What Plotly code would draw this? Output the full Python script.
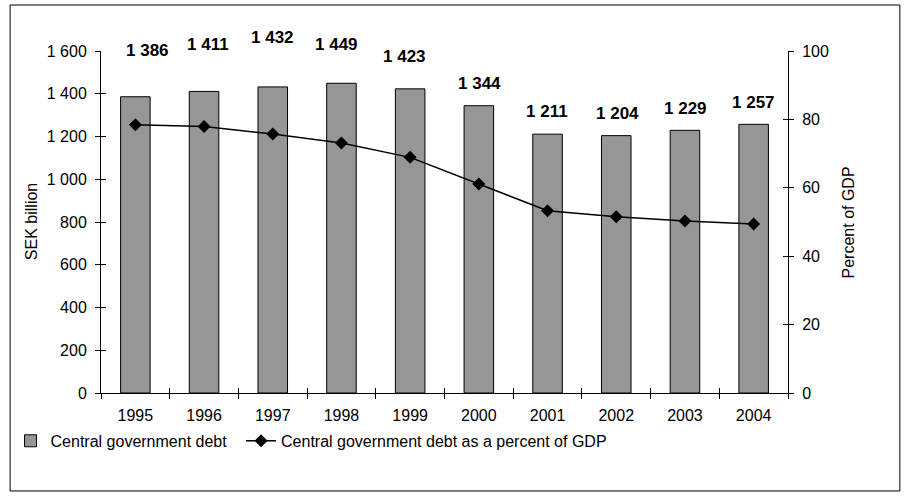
import plotly.graph_objects as go

years = ["1995", "1996", "1997", "1998", "1999", "2000", "2001", "2002", "2003", "2004"]
debt_sek_bn = [1386, 1411, 1432, 1449, 1423, 1344, 1211, 1204, 1229, 1257]
debt_pct_gdp = [78.4, 77.9, 75.7, 73.1, 68.9, 61.1, 53.3, 51.5, 50.3, 49.4]
debt_labels = ["1 386", "1 411", "1 432", "1 449", "1 423", "1 344", "1 211", "1 204", "1 229", "1 257"]

# label placement offsets (pixels) as in the original chart
label_yshift = [46, 47, 49, 39, 32, 22, 23, 22, 22, 22]
label_xshift = [12, 4, 0, -5, -6, 1, -1, 1, 1, 0]

FONT = "Liberation Sans, Arial, sans-serif"
FS = 16

fig = go.Figure()
fig.add_trace(go.Bar(
    x=years, y=debt_sek_bn, name="Central government debt",
    marker=dict(color="#969696", line=dict(color="black", width=1)),
    width=0.43, xaxis="x", yaxis="y", hoverinfo="x+y", legend="legend",
))
fig.add_trace(go.Scatter(
    x=years, y=debt_pct_gdp, name="Central government debt as a percent of GDP",
    mode="lines+markers", line=dict(color="black", width=1.5),
    marker=dict(symbol="diamond", size=10, color="black"),
    xaxis="x", yaxis="y2", legend="legend2",
))
# invisible helpers so the inner halves of the crossing tick marks are drawn
fig.add_trace(go.Scatter(x=years, y=debt_sek_bn, mode="markers", marker=dict(opacity=0),
                         showlegend=False, hoverinfo="skip", xaxis="x2", yaxis="y3"))
fig.add_trace(go.Scatter(x=years, y=debt_pct_gdp, mode="markers", marker=dict(opacity=0),
                         showlegend=False, hoverinfo="skip", xaxis="x", yaxis="y4"))

for i, (v, t, dx, dy) in enumerate(zip(debt_sek_bn, debt_labels, label_xshift, label_yshift)):
    fig.add_annotation(x=i, y=v, xref="x", yref="y", text="<b>%s</b>" % t, showarrow=False,
                       xshift=dx, yshift=dy, yanchor="middle",
                       font=dict(family=FONT, size=17, color="black"))

tick_common = dict(tickcolor="black", ticklen=5, tickwidth=1)
legend_common = dict(orientation="h", y=-0.14, xanchor="left", yanchor="middle",
                     font=dict(family=FONT, size=FS), bgcolor="rgba(0,0,0,0)")
fig.update_layout(
    width=905, height=497,
    margin=dict(l=100, r=117, t=51, b=104),
    paper_bgcolor="white", plot_bgcolor="white",
    separators=". ",
    font=dict(family=FONT, size=FS, color="black"),
    showlegend=True,
    legend=dict(x=-0.13, **legend_common),
    legend2=dict(x=0.205, **legend_common),
    xaxis=dict(type="category", range=[-0.5, 9.5], showline=True, linecolor="black", linewidth=1,
               ticks="outside", tickson="boundaries", showgrid=False, zeroline=False,
               tickfont=dict(size=FS), ticklabelstandoff=8, **tick_common),
    xaxis2=dict(type="category", range=[-0.5, 9.5], overlaying="x", anchor="y", side="bottom",
                ticks="inside", tickson="boundaries", showticklabels=False, showline=False,
                showgrid=False, zeroline=False, **tick_common),
    yaxis=dict(range=[0, 1600], tickvals=[0, 200, 400, 600, 800, 1000, 1200, 1400, 1600],
               tickformat=",d", showline=True, linecolor="black", linewidth=1,
               ticks="outside", showgrid=False, zeroline=False, tickfont=dict(size=FS),
               ticklabelstandoff=5, **tick_common),
    yaxis2=dict(range=[0, 100], tickvals=[0, 20, 40, 60, 80, 100], overlaying="y", side="right",
                anchor="x", showline=True, linecolor="black", linewidth=1, ticks="outside",
                showgrid=False, zeroline=False, tickfont=dict(size=FS), ticklabelstandoff=5,
                **tick_common),
    yaxis3=dict(range=[0, 1600], tickvals=[0, 200, 400, 600, 800, 1000, 1200, 1400, 1600],
                overlaying="y", side="left", anchor="x2", ticks="inside", showticklabels=False,
                showline=False, showgrid=False, zeroline=False, **tick_common),
    yaxis4=dict(range=[0, 100], tickvals=[0, 20, 40, 60, 80, 100], overlaying="y", side="right",
                anchor="x", ticks="inside", showticklabels=False, showline=False,
                showgrid=False, zeroline=False, **tick_common),
)

# axis titles
fig.add_annotation(text="SEK billion", xref="paper", yref="paper", x=-0.1017, y=0.5,
                   xanchor="center", yanchor="middle", textangle=-90, showarrow=False,
                   font=dict(family=FONT, size=FS))
fig.add_annotation(text="Percent of GDP", xref="paper", yref="paper", x=1.088, y=0.5,
                   xanchor="center", yanchor="middle", textangle=-90, showarrow=False,
                   font=dict(family=FONT, size=FS))

# outer chart border
fig.add_shape(type="rect", xref="paper", yref="paper", x0=-0.1323, x1=1.1628, y0=-0.2865, y1=1.1345,
              line=dict(color="black", width=1), fillcolor="rgba(0,0,0,0)", layer="below")

fig.write_html("out.html")
